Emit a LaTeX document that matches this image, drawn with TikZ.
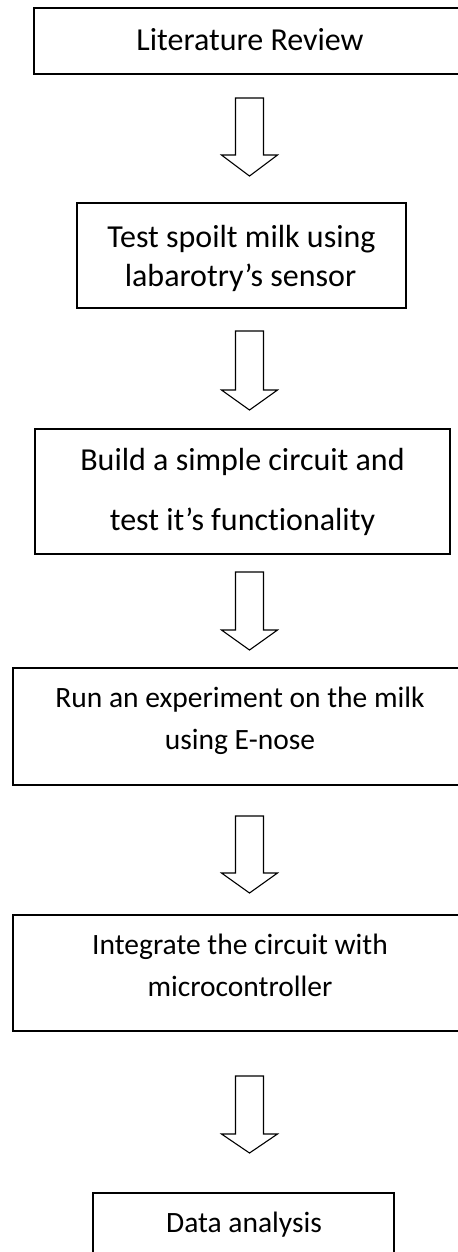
\documentclass[tikz,border=0pt]{standalone}
\usepackage{fontspec}
\setmainfont[Ligatures=NoCommon]{Carlito}
\newcommand\blockarr[3]{% top, head base, tip (y in px)
  \draw[arrowline] (249.5-14,#1) -- (249.5-14,#2) -- (249.5-28,#2) -- (249.5,#3)
    -- (249.5+28,#2) -- (249.5+14,#2) -- (249.5+14,#1) -- cycle;}
\begin{document}
\begin{tikzpicture}[x=1bp,y=-1bp,
  box/.style={draw=black,line width=1.7bp},
  arrowline/.style={draw=black,line width=1.1bp,line join=miter},
  big/.style={font=\fontsize{32bp}{38bp}\selectfont,anchor=base,inner sep=0pt},
  small/.style={font=\fontsize{29.5bp}{35bp}\selectfont,anchor=base,inner sep=0pt}]
\useasboundingbox (0,0) rectangle (458,1252);
\fill[white] (0,0) rectangle (458,1252);
% boxes
\draw[box] (34,8) rectangle (466,74);
\draw[box] (77,203) rectangle (406,308);
\draw[box] (35,429) rectangle (450,554);
\draw[box] (13,668) rectangle (467,785);
\draw[box] (13,915) rectangle (467,1031);
\draw[box] (93,1193) rectangle (394,1262);
% texts
\node[big] (t1) at (250,50) {Literature Review};
\node[big] (t2a) at (241.5,247) {Test spoilt milk using};
\node[big] (t2b) at (240.5,286) {labarotry’s sensor};
\node[big] (t3a) at (242.5,470) {Build a simple circuit and};
\node[big] (t3b) at (242.5,530) {test it’s functionality};
\node[small] (t4a) at (240,707) {Run an experiment on the milk};
\node[small] (t4b) at (240,749) {using E-nose};
\node[small] (t5a) at (240,954) {Integrate the circuit with};
\node[small] (t5b) at (240,996) {microcontroller};
\node[small] (t6) at (244,1232) {Data analysis};
% arrows
\blockarr{98}{155}{176}
\blockarr{331}{390}{410}
\blockarr{572}{630}{650}
\blockarr{816}{873}{893}
\blockarr{1076}{1134}{1153}
\end{tikzpicture}
\end{document}
